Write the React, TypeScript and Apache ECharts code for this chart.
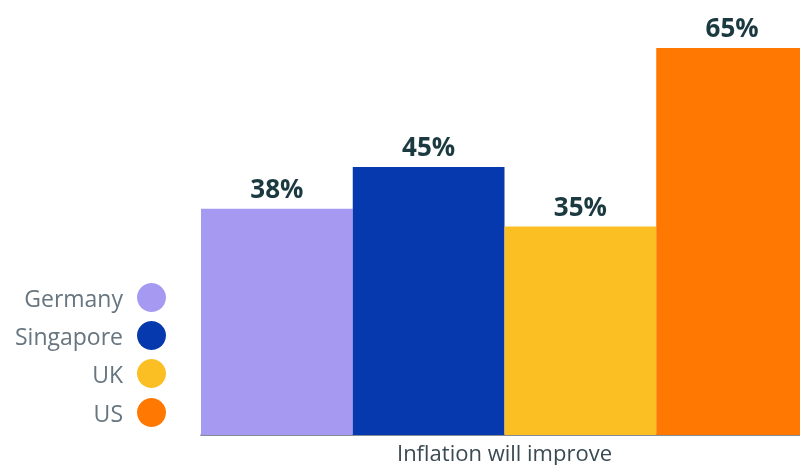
import React, { useEffect, useRef } from "react";
import * as echarts from "echarts";

const categories = ["Inflation will improve"];
const seriesNames = ["Germany", "Singapore", "UK", "US"];
const seriesValues = [38, 45, 35, 65];
const seriesColors = ["#a599f1", "#0639ae", "#fbbf23", "#ff7801"];
const legendTops = [283, 321, 359, 398];

export default function App() {
  const ref = useRef<HTMLDivElement>(null);
  useEffect(() => {
    document.body.style.margin = "0";
    const chart = echarts.init(ref.current!, undefined, { renderer: "svg" });
    const option: any = {
      animation: false,
      grid: {
        left: 201,
        width: 607,
        top: 48,
        height: 387,
        containLabel: false,
        outerBoundsMode: "none",
      },
      legend: seriesNames.map((n, i) => ({
        data: [n],
        orient: "vertical",
        align: "right",
        right: 634,
        top: legendTops[i],
        icon: "circle",
        itemWidth: 29,
        itemHeight: 29,
        selectedMode: false,
        padding: 0,
        textStyle: {
          fontFamily: "Open Sans",
          fontSize: 23,
          color: "#66757f",
          padding: [0, 9, 0, 0],
        },
      })),
      xAxis: {
        type: "category",
        data: categories,
        axisLine: { show: true, lineStyle: { color: "#5b6670", width: 1.5 } },
        axisTick: { show: false },
        axisLabel: {
          fontFamily: "Open Sans",
          fontSize: 22,
          color: "#3a4a52",
          margin: 6,
        },
      },
      yAxis: {
        type: "value",
        min: 0,
        max: 65,
        show: false,
        splitLine: { show: false },
      },
      series: seriesNames.map((n, i) => ({
        name: n,
        type: "bar",
        data: [seriesValues[i]],
        barGap: "0%",
        barCategoryGap: "0%",
        itemStyle: { color: seriesColors[i] },
        label: {
          show: true,
          position: "top",
          distance: 8,
          formatter: "{c}%",
          fontFamily: "Open Sans",
          fontWeight: "bold",
          fontSize: 26,
          color: "#1b3a40",
        },
      })),
    };
    chart.setOption(option);
    return () => chart.dispose();
  }, []);
  return (
    <div
      ref={ref}
      style={{ position: "fixed", left: 0, top: 0, width: 800, height: 465 }}
    />
  );
}
